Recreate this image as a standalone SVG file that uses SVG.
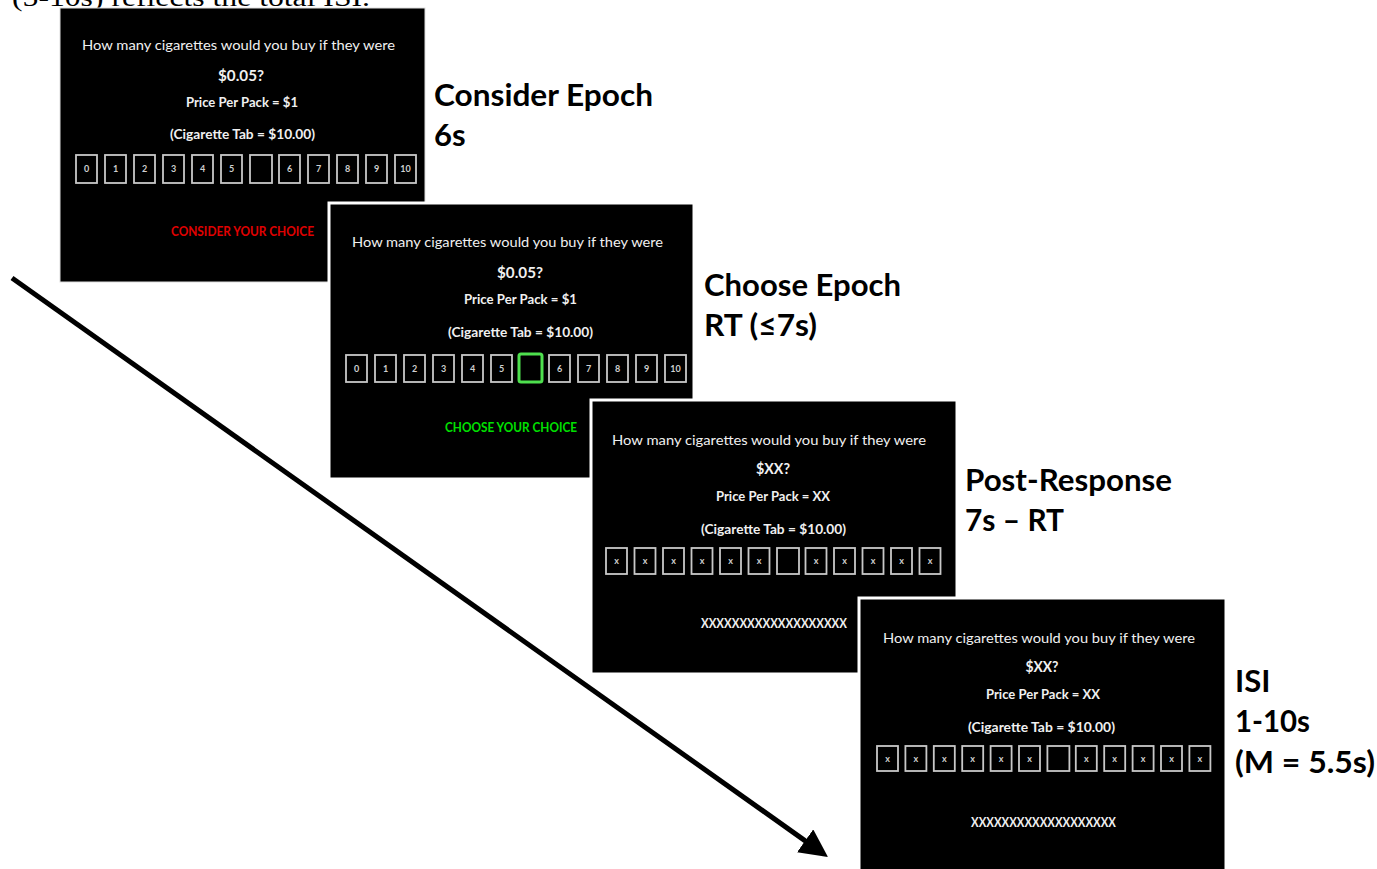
<svg xmlns="http://www.w3.org/2000/svg" width="1377" height="869" viewBox="0 0 1377 869">
<style>
.scr{fill:#000;stroke:#fff;stroke-width:3}
.q{font-family:Lato,"Liberation Sans",sans-serif;font-size:14px;fill:#f0f0f0;text-anchor:middle}
.b{font-family:Lato,"Liberation Sans",sans-serif;font-weight:700;font-size:13.5px;fill:#f0f0f0;text-anchor:middle}
.bx{fill:none;stroke:#c8c8c8;stroke-width:1.8}
.n{font-family:Lato,"Liberation Sans",sans-serif;font-weight:700;font-size:9px;fill:#d0d0d0;text-anchor:middle}
.lab{font-family:Lato,"Open Sans",sans-serif;font-weight:700;font-size:31px;fill:#000}
.top{font-family:"Liberation Serif",serif;font-size:25px;fill:#000}
</style>
<defs>
<marker id="ah" markerUnits="userSpaceOnUse" markerWidth="30" markerHeight="30" refX="4" refY="14" orient="auto"><path d="M0,0 L28,14 L0,28 z" fill="#000"/></marker>
</defs>
<rect width="1377" height="869" fill="#fff"/>
<text class="top" x="12" y="6" textLength="358" lengthAdjust="spacingAndGlyphs">(5-10s) reflects the total ISI.</text>

<g id="connectors">
<line x1="12" y1="278" x2="808.4" y2="843.1" stroke="#000" stroke-width="5" marker-end="url(#ah)"/>
</g>

<g id="screen-consider">
<rect class="scr" x="60" y="8" width="365" height="274" style="stroke:#ddd;stroke-width:1"/>
<text class="q" x="238.5" y="50" textLength="313" lengthAdjust="spacingAndGlyphs">How many cigarettes would you buy if they were</text>
<text class="b" x="241" y="81" style="font-size:14.5px" textLength="46" lengthAdjust="spacingAndGlyphs">$0.05?</text>
<text class="b" x="242" y="107" textLength="112" lengthAdjust="spacingAndGlyphs">Price Per Pack = $1</text>
<text class="b" x="242.5" y="139" textLength="145" lengthAdjust="spacingAndGlyphs">(Cigarette Tab = $10.00)</text>
<g>
<rect class="bx" x="76" y="155" width="21" height="28"/><text class="n" x="86.5" y="172">0</text>
<rect class="bx" x="105" y="155" width="21" height="28"/><text class="n" x="115.5" y="172">1</text>
<rect class="bx" x="134" y="155" width="21" height="28"/><text class="n" x="144.5" y="172">2</text>
<rect class="bx" x="163" y="155" width="21" height="28"/><text class="n" x="173.5" y="172">3</text>
<rect class="bx" x="192" y="155" width="21" height="28"/><text class="n" x="202.5" y="172">4</text>
<rect class="bx" x="221" y="155" width="21" height="28"/><text class="n" x="231.5" y="172">5</text>
<rect class="bx" x="250" y="155" width="22" height="28"/>
<rect class="bx" x="279" y="155" width="21" height="28"/><text class="n" x="289.5" y="172">6</text>
<rect class="bx" x="308" y="155" width="21" height="28"/><text class="n" x="318.5" y="172">7</text>
<rect class="bx" x="337" y="155" width="21" height="28"/><text class="n" x="347.5" y="172">8</text>
<rect class="bx" x="366" y="155" width="21" height="28"/><text class="n" x="376.5" y="172">9</text>
<rect class="bx" x="395" y="155" width="21" height="28"/><text class="n" x="405.5" y="172">10</text>
</g>
<text class="b" x="242.5" y="236" style="fill:#e00000;font-size:12.5px" textLength="143" lengthAdjust="spacingAndGlyphs">CONSIDER YOUR CHOICE</text>
</g>

<g id="screen-choose">
<rect class="scr" x="329" y="203" width="365" height="276"/>
<text class="q" x="507.5" y="247" textLength="311" lengthAdjust="spacingAndGlyphs">How many cigarettes would you buy if they were</text>
<text class="b" x="520" y="278" style="font-size:14.5px" textLength="46" lengthAdjust="spacingAndGlyphs">$0.05?</text>
<text class="b" x="520.5" y="304" textLength="113" lengthAdjust="spacingAndGlyphs">Price Per Pack = $1</text>
<text class="b" x="520.5" y="337" textLength="145" lengthAdjust="spacingAndGlyphs">(Cigarette Tab = $10.00)</text>
<g>
<rect class="bx" x="346" y="355" width="21" height="27"/><text class="n" x="356.5" y="372">0</text>
<rect class="bx" x="375" y="355" width="21" height="27"/><text class="n" x="385.5" y="372">1</text>
<rect class="bx" x="404" y="355" width="21" height="27"/><text class="n" x="414.5" y="372">2</text>
<rect class="bx" x="433" y="355" width="21" height="27"/><text class="n" x="443.5" y="372">3</text>
<rect class="bx" x="462" y="355" width="21" height="27"/><text class="n" x="472.5" y="372">4</text>
<rect class="bx" x="491" y="355" width="21" height="27"/><text class="n" x="501.5" y="372">5</text>
<rect x="519" y="354" width="23" height="28" rx="2" fill="none" stroke="#4ee04e" stroke-width="3"/>
<rect class="bx" x="549" y="355" width="21" height="27"/><text class="n" x="559.5" y="372">6</text>
<rect class="bx" x="578" y="355" width="21" height="27"/><text class="n" x="588.5" y="372">7</text>
<rect class="bx" x="607" y="355" width="21" height="27"/><text class="n" x="617.5" y="372">8</text>
<rect class="bx" x="636" y="355" width="21" height="27"/><text class="n" x="646.5" y="372">9</text>
<rect class="bx" x="665" y="355" width="21" height="27"/><text class="n" x="675.5" y="372">10</text>
</g>
<text class="b" x="511" y="432" style="fill:#00e000;font-size:12.5px" textLength="132" lengthAdjust="spacingAndGlyphs">CHOOSE YOUR CHOICE</text>
</g>

<g id="screen-post">
<rect class="scr" x="591" y="400" width="366" height="274"/>
<text class="q" x="769" y="445" textLength="314" lengthAdjust="spacingAndGlyphs">How many cigarettes would you buy if they were</text>
<text class="b" x="773" y="474" style="font-size:14.5px" textLength="34" lengthAdjust="spacingAndGlyphs">$XX?</text>
<text class="b" x="773" y="501" textLength="114" lengthAdjust="spacingAndGlyphs">Price Per Pack = XX</text>
<text class="b" x="773.5" y="534" textLength="145" lengthAdjust="spacingAndGlyphs">(Cigarette Tab = $10.00)</text>
<g>
<rect class="bx" x="606" y="548" width="21" height="26"/><text class="n" x="616.5" y="564">x</text>
<rect class="bx" x="634.5" y="548" width="21" height="26"/><text class="n" x="645" y="564">x</text>
<rect class="bx" x="663" y="548" width="21" height="26"/><text class="n" x="673.5" y="564">x</text>
<rect class="bx" x="691.5" y="548" width="21" height="26"/><text class="n" x="702" y="564">x</text>
<rect class="bx" x="720" y="548" width="21" height="26"/><text class="n" x="730.5" y="564">x</text>
<rect class="bx" x="748.5" y="548" width="21" height="26"/><text class="n" x="759" y="564">x</text>
<rect class="bx" x="777" y="548" width="22" height="26"/>
<rect class="bx" x="805.5" y="548" width="21" height="26"/><text class="n" x="816" y="564">x</text>
<rect class="bx" x="834" y="548" width="21" height="26"/><text class="n" x="844.5" y="564">x</text>
<rect class="bx" x="862.5" y="548" width="21" height="26"/><text class="n" x="873" y="564">x</text>
<rect class="bx" x="891" y="548" width="21" height="26"/><text class="n" x="901.5" y="564">x</text>
<rect class="bx" x="919.5" y="548" width="21" height="26"/><text class="n" x="930" y="564">x</text>
</g>
<text class="b" x="774" y="628" style="font-size:12.5px" textLength="146" lengthAdjust="spacingAndGlyphs">XXXXXXXXXXXXXXXXXXX</text>
</g>

<g id="screen-isi">
<rect class="scr" x="859" y="598" width="367" height="285"/>
<text class="q" x="1039" y="643" textLength="312" lengthAdjust="spacingAndGlyphs">How many cigarettes would you buy if they were</text>
<text class="b" x="1042" y="672" style="font-size:14.5px" textLength="33" lengthAdjust="spacingAndGlyphs">$XX?</text>
<text class="b" x="1043" y="699" textLength="114" lengthAdjust="spacingAndGlyphs">Price Per Pack = XX</text>
<text class="b" x="1041.5" y="732" textLength="147" lengthAdjust="spacingAndGlyphs">(Cigarette Tab = $10.00)</text>
<g>
<rect class="bx" x="877" y="746" width="21" height="25"/><text class="n" x="887.5" y="762">x</text>
<rect class="bx" x="905.4" y="746" width="21" height="25"/><text class="n" x="915.9" y="762">x</text>
<rect class="bx" x="933.8" y="746" width="21" height="25"/><text class="n" x="944.3" y="762">x</text>
<rect class="bx" x="962.2" y="746" width="21" height="25"/><text class="n" x="972.7" y="762">x</text>
<rect class="bx" x="990.6" y="746" width="21" height="25"/><text class="n" x="1001.1" y="762">x</text>
<rect class="bx" x="1019" y="746" width="21" height="25"/><text class="n" x="1029.5" y="762">x</text>
<rect class="bx" x="1047.4" y="746" width="22" height="25"/>
<rect class="bx" x="1075.8" y="746" width="21" height="25"/><text class="n" x="1086.3" y="762">x</text>
<rect class="bx" x="1104.2" y="746" width="21" height="25"/><text class="n" x="1114.7" y="762">x</text>
<rect class="bx" x="1132.6" y="746" width="21" height="25"/><text class="n" x="1143.1" y="762">x</text>
<rect class="bx" x="1161" y="746" width="21" height="25"/><text class="n" x="1171.5" y="762">x</text>
<rect class="bx" x="1189.4" y="746" width="21" height="25"/><text class="n" x="1199.9" y="762">x</text>
</g>
<text class="b" x="1043.5" y="827" style="font-size:12.5px" textLength="145" lengthAdjust="spacingAndGlyphs">XXXXXXXXXXXXXXXXXXX</text>
</g>

<g id="label-consider">
<text class="lab" x="434" y="106" textLength="219" lengthAdjust="spacingAndGlyphs">Consider Epoch</text>
<text class="lab" x="434" y="146">6s</text>
</g>
<g id="label-choose">
<text class="lab" x="704" y="296" textLength="197" lengthAdjust="spacingAndGlyphs">Choose Epoch</text>
<text class="lab" x="704" y="336" textLength="113" lengthAdjust="spacingAndGlyphs">RT (≤7s)</text>
</g>
<g id="label-post">
<text class="lab" x="965" y="491" textLength="207" lengthAdjust="spacingAndGlyphs">Post-Response</text>
<text class="lab" x="965" y="531" textLength="99" lengthAdjust="spacingAndGlyphs">7s – RT</text>
</g>
<g id="label-isi">
<text class="lab" x="1235" y="692">ISI</text>
<text class="lab" x="1235" y="732" textLength="75" lengthAdjust="spacingAndGlyphs">1-10s</text>
<text class="lab" x="1235" y="773" textLength="140" lengthAdjust="spacingAndGlyphs">(M = 5.5s)</text>
</g>
</svg>
